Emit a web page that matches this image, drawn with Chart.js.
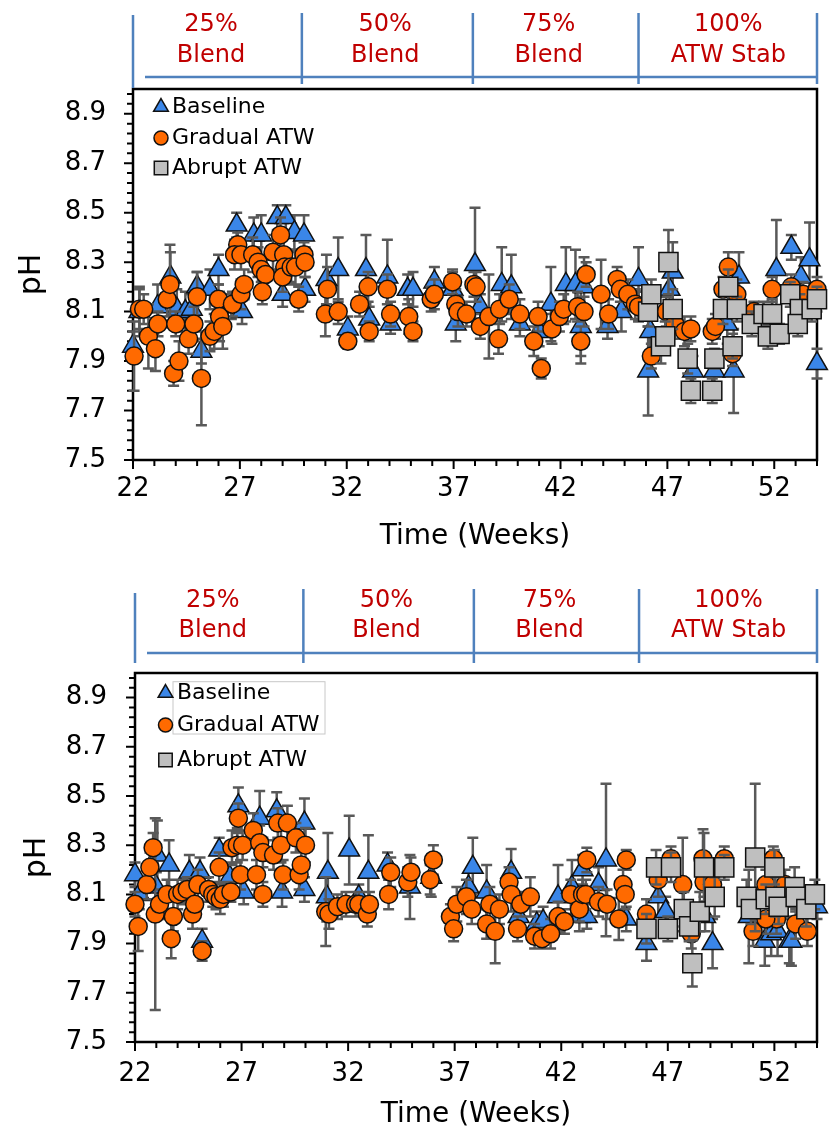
<!DOCTYPE html>
<html>
<head>
<meta charset="utf-8">
<title>pH over time</title>
<script src="https://cdn.jsdelivr.net/npm/chart.js@4.4.1/dist/chart.umd.min.js"></script>
<style>
  html, body { margin: 0; padding: 0; background: #fff; }
  body { position: relative; width: 832px; height: 1136px; overflow: hidden; }
  canvas { position: absolute; left: 0; }
  #phTop { top: 0; }
  #phBottom { top: 570px; }
</style>
</head>
<body>
<canvas id="phTop" width="832" height="570"></canvas>
<canvas id="phBottom" width="832" height="566"></canvas>
<script>
/* ---------- data: [week, pH, std dev] ---------- */
const seriesNames = ['Baseline', 'Gradual ATW', 'Abrupt ATW'];
const phaseLabels = [['25%', 'Blend'], ['50%', 'Blend'], ['75%', 'Blend'], ['100%', 'ATW Stab']];
const phaseBounds = [22, 29.9, 37.9, 45.65, 54];
const xTicks = [22, 27, 32, 37, 42, 47, 52];
const yTicks = [7.5, 7.7, 7.9, 8.1, 8.3, 8.5, 8.7, 8.9];

const topBaseline = [
  [22.0, 7.96, 0.06], [22.3, 8.10, 0.10], [23.15, 8.12, 0.09], [23.75, 8.24, 0.10],
  [24.05, 8.11, 0.08], [24.45, 8.10, 0.08], [24.75, 8.11, 0.06], [25.0, 8.20, 0.06],
  [25.2, 7.94, 0.05], [25.6, 8.19, 0.08], [26.0, 8.27, 0.06], [26.6, 8.12, 0.05],
  [27.1, 8.10, 0.05], [26.85, 8.45, 0.05], [27.65, 8.41, 0.07], [28.0, 8.41, 0.08],
  [28.75, 8.48, 0.05], [29.15, 8.48, 0.05], [29.55, 8.42, 0.07], [30.0, 8.41, 0.08],
  [29.0, 8.17, 0.05], [30.05, 8.19, 0.05], [31.05, 8.23, 0.10], [31.6, 8.27, 0.13],
  [32.05, 8.03, 0.05], [32.9, 8.27, 0.14], [33.05, 8.07, 0.05], [33.9, 8.24, 0.15],
  [34.05, 8.05, 0.04], [34.85, 8.19, 0.06], [35.1, 8.19, 0.07], [36.1, 8.22, 0.06],
  [36.95, 8.19, 0.07], [37.1, 8.05, 0.07], [38.0, 8.29, 0.23], [38.25, 8.12, 0.05],
  [39.25, 8.21, 0.15], [39.7, 8.20, 0.13], [40.1, 8.05, 0.05], [41.0, 8.02, 0.06],
  [41.55, 8.13, 0.15], [42.25, 8.21, 0.15], [42.7, 8.21, 0.14], [43.1, 8.20, 0.12],
  [42.95, 8.04, 0.15], [44.2, 8.04, 0.05], [44.85, 8.10, 0.08], [45.65, 8.23, 0.13],
  [46.1, 7.86, 0.18], [46.2, 8.02, 0.09], [47.1, 8.19, 0.13], [47.25, 8.26, 0.12],
  [48.2, 7.86, 0.06], [49.2, 7.86, 0.06], [49.8, 8.05, 0.08], [50.1, 7.86, 0.17],
  [50.35, 8.24, 0.10], [52.1, 8.27, 0.20], [52.8, 8.36, 0.05], [53.25, 8.24, 0.08],
  [53.65, 8.31, 0.15], [54.0, 7.89, 0.06]
];
const topGradual = [
  [22.05, 7.92, 0.14], [22.3, 8.11, 0.08], [22.5, 8.11, 0.06], [22.72, 8.00, 0.13],
  [23.05, 7.95, 0.09], [23.17, 8.05, 0.05], [23.6, 8.15, 0.07], [23.73, 8.21, 0.16],
  [23.9, 7.85, 0.05], [24.15, 7.90, 0.08], [24.0, 8.05, 0.05], [24.6, 7.99, 0.06],
  [24.85, 8.05, 0.07], [25.0, 8.16, 0.10], [25.2, 7.83, 0.19], [25.6, 8.00, 0.06],
  [25.8, 8.02, 0.07], [26.0, 8.15, 0.06], [26.05, 8.08, 0.10], [26.2, 8.04, 0.09],
  [26.65, 8.13, 0.05], [27.05, 8.17, 0.06], [27.2, 8.21, 0.06], [26.9, 8.37, 0.05],
  [26.75, 8.33, 0.06], [27.05, 8.33, 0.06], [27.6, 8.33, 0.07], [27.85, 8.30, 0.06],
  [28.0, 8.27, 0.05], [28.2, 8.25, 0.06], [28.05, 8.18, 0.05], [28.55, 8.34, 0.07],
  [28.9, 8.41, 0.07], [29.05, 8.33, 0.09], [29.1, 8.28, 0.07], [29.0, 8.24, 0.06],
  [29.4, 8.28, 0.06], [29.6, 8.28, 0.07], [30.0, 8.33, 0.05], [30.05, 8.30, 0.06],
  [29.75, 8.15, 0.05], [31.1, 8.19, 0.09], [31.0, 8.09, 0.09], [31.6, 8.10, 0.05],
  [32.05, 7.98, 0.03], [32.6, 8.13, 0.05], [33.0, 8.20, 0.06], [33.05, 8.02, 0.04],
  [33.9, 8.19, 0.06], [34.05, 8.09, 0.05], [34.9, 8.08, 0.07], [35.1, 8.02, 0.04],
  [35.95, 8.15, 0.05], [36.1, 8.17, 0.06], [36.95, 8.22, 0.05], [37.1, 8.13, 0.06],
  [37.2, 8.10, 0.06], [37.6, 8.09, 0.05], [37.95, 8.21, 0.05], [38.05, 8.20, 0.06],
  [38.25, 8.04, 0.05], [38.65, 8.08, 0.17], [39.1, 7.99, 0.06], [39.15, 8.11, 0.06],
  [39.6, 8.15, 0.06], [40.1, 8.09, 0.06], [40.75, 7.98, 0.06], [40.95, 8.08, 0.06],
  [41.1, 7.87, 0.04], [41.6, 8.03, 0.06], [41.95, 8.08, 0.06], [42.15, 8.11, 0.06],
  [42.8, 8.12, 0.06], [43.1, 8.10, 0.06], [43.2, 8.25, 0.05], [42.95, 7.98, 0.06],
  [43.9, 8.17, 0.14], [44.25, 8.09, 0.06], [44.65, 8.23, 0.05], [44.8, 8.19, 0.05],
  [45.15, 8.17, 0.06], [45.5, 8.13, 0.06], [45.65, 8.12, 0.06], [46.25, 7.92, 0.05],
  [46.95, 8.10, 0.06], [47.35, 8.05, 0.06], [47.8, 8.02, 0.06], [48.1, 8.03, 0.05],
  [49.1, 8.02, 0.05], [49.25, 8.04, 0.05], [49.85, 8.28, 0.06], [49.6, 8.19, 0.05],
  [50.25, 8.17, 0.06], [50.05, 7.93, 0.05], [51.05, 8.10, 0.04], [51.9, 8.19, 0.05],
  [52.8, 8.20, 0.05], [53.35, 8.17, 0.05], [54.0, 8.19, 0.05]
];
const topAbrupt = [
  [46.1, 8.10, 0.06], [46.25, 8.17, 0.06], [46.7, 7.96, 0.07], [46.9, 8.00, 0.06],
  [47.05, 8.30, 0.13], [47.25, 8.11, 0.08], [47.95, 7.91, 0.06], [48.1, 7.78, 0.05],
  [49.1, 7.78, 0.05], [49.2, 7.91, 0.04], [49.6, 8.11, 0.06], [49.85, 8.20, 0.07],
  [50.25, 8.11, 0.05], [50.05, 7.96, 0.05], [50.95, 8.05, 0.05], [51.5, 8.09, 0.05],
  [51.9, 8.09, 0.06], [51.7, 8.00, 0.05], [52.25, 8.01, 0.04], [52.75, 8.17, 0.05],
  [53.2, 8.11, 0.06], [53.1, 8.05, 0.05], [53.75, 8.11, 0.05], [54.0, 8.15, 0.05]
];

const bottomBaseline = [
  [22.0, 8.18, 0.05], [22.2, 8.10, 0.06], [23.05, 8.26, 0.14], [23.6, 8.22, 0.10],
  [23.0, 8.13, 0.06], [24.55, 8.19, 0.07], [25.05, 8.19, 0.06], [25.15, 7.91, 0.05],
  [25.95, 8.28, 0.05], [26.45, 8.17, 0.06], [26.85, 8.46, 0.075], [27.1, 8.11, 0.05],
  [27.85, 8.41, 0.11], [28.65, 8.44, 0.075], [28.9, 8.11, 0.06], [29.95, 8.39, 0.10],
  [29.95, 8.12, 0.05], [31.05, 8.19, 0.16], [31.0, 8.09, 0.10], [32.05, 8.28, 0.14],
  [32.5, 8.09, 0.05], [32.95, 8.19, 0.15], [33.85, 8.22, 0.05], [34.9, 8.13, 0.13],
  [35.9, 8.17, 0.08], [37.85, 8.21, 0.12], [37.65, 8.13, 0.06], [38.5, 8.11, 0.11],
  [39.65, 8.19, 0.095], [40.0, 8.01, 0.06], [40.85, 7.98, 0.05], [41.15, 7.99, 0.06],
  [41.85, 8.09, 0.13], [42.5, 8.13, 0.11], [43.0, 8.20, 0.06], [42.85, 8.01, 0.06],
  [43.2, 8.01, 0.05], [43.75, 8.14, 0.07], [44.1, 8.24, 0.31], [45.05, 8.00, 0.05],
  [46.0, 7.90, 0.07], [46.55, 8.09, 0.08], [46.9, 8.03, 0.06], [48.75, 8.01, 0.06],
  [49.1, 7.90, 0.10], [50.8, 8.01, 0.19], [51.55, 7.91, 0.10], [51.85, 7.94, 0.09],
  [52.15, 7.95, 0.10], [52.7, 7.91, 0.09], [52.8, 7.91, 0.10], [54.0, 8.05, 0.05]
];
const bottomGradual = [
  [22.0, 8.06, 0.05], [22.15, 7.97, 0.10], [22.55, 8.14, 0.06], [22.7, 8.21, 0.06],
  [22.85, 8.29, 0.06], [22.95, 8.02, 0.39], [23.15, 8.06, 0.06], [23.5, 8.10, 0.06],
  [23.7, 7.92, 0.08], [23.8, 8.01, 0.06], [24.0, 8.10, 0.06], [24.2, 8.11, 0.05],
  [24.45, 8.12, 0.05], [24.7, 8.02, 0.06], [24.8, 8.06, 0.05], [24.95, 8.14, 0.06],
  [25.15, 7.87, 0.04], [25.45, 8.12, 0.05], [25.65, 8.10, 0.05], [25.8, 8.09, 0.05],
  [26.0, 8.08, 0.06], [26.15, 8.10, 0.05], [26.5, 8.11, 0.04], [25.95, 8.21, 0.06],
  [26.55, 8.29, 0.07], [26.8, 8.30, 0.07], [27.05, 8.30, 0.06], [26.85, 8.41, 0.06],
  [26.95, 8.18, 0.06], [27.55, 8.36, 0.07], [27.7, 8.18, 0.06], [27.85, 8.31, 0.07],
  [28.0, 8.27, 0.06], [28.0, 8.10, 0.05], [28.5, 8.26, 0.06], [28.7, 8.39, 0.06],
  [28.85, 8.30, 0.07], [28.95, 8.18, 0.06], [29.15, 8.39, 0.07], [29.55, 8.33, 0.06],
  [29.7, 8.18, 0.06], [29.8, 8.22, 0.06], [30.0, 8.30, 0.07], [30.95, 8.03, 0.14],
  [31.1, 8.02, 0.06], [31.5, 8.05, 0.05], [31.9, 8.06, 0.05], [32.35, 8.06, 0.05],
  [32.5, 8.06, 0.05], [32.9, 8.02, 0.05], [33.0, 8.06, 0.05], [33.9, 8.10, 0.06],
  [34.0, 8.19, 0.06], [34.8, 8.15, 0.06], [34.95, 8.19, 0.06], [35.85, 8.16, 0.06],
  [36.0, 8.24, 0.06], [36.8, 8.01, 0.05], [36.95, 7.96, 0.05], [37.1, 8.06, 0.07],
  [37.55, 8.09, 0.07], [37.8, 8.04, 0.06], [38.5, 7.98, 0.06], [38.65, 8.06, 0.07],
  [38.9, 7.95, 0.13], [39.1, 8.04, 0.06], [39.55, 8.15, 0.06], [39.65, 8.10, 0.07],
  [39.95, 7.96, 0.05], [40.1, 8.06, 0.05], [40.55, 8.09, 0.08], [40.75, 7.93, 0.05],
  [41.1, 7.92, 0.04], [41.5, 7.94, 0.06], [41.85, 8.01, 0.06], [42.15, 7.99, 0.05],
  [42.45, 8.10, 0.06], [42.85, 8.04, 0.05], [43.0, 8.10, 0.06], [43.2, 8.24, 0.05],
  [43.15, 8.10, 0.06], [43.75, 8.07, 0.06], [44.15, 8.06, 0.06], [44.7, 8.00, 0.085],
  [44.9, 8.14, 0.06], [45.0, 8.10, 0.06], [45.05, 8.24, 0.04], [46.0, 8.02, 0.06],
  [46.55, 8.16, 0.07], [47.15, 8.245, 0.05], [47.7, 8.14, 0.19], [48.1, 7.94, 0.06],
  [48.65, 8.245, 0.12], [48.7, 8.15, 0.06], [49.1, 8.14, 0.06], [49.65, 8.245, 0.05],
  [51.0, 7.95, 0.06], [51.6, 8.14, 0.06], [51.95, 8.245, 0.05], [52.1, 8.00, 0.06],
  [52.5, 8.14, 0.06], [53.0, 7.98, 0.06], [53.55, 7.95, 0.06], [51.6, 8.00, 0.06]
];
const bottomAbrupt = [
  [46.0, 7.96, 0.06], [46.45, 8.21, 0.07], [47.0, 7.96, 0.05], [47.15, 8.21, 0.06],
  [47.75, 8.04, 0.07], [48.0, 7.97, 0.06], [48.15, 7.82, 0.094], [48.5, 8.03, 0.08],
  [48.7, 8.21, 0.14], [49.2, 8.09, 0.08], [49.65, 8.21, 0.05], [50.7, 8.09, 0.07],
  [50.9, 8.04, 0.06], [51.1, 8.25, 0.30], [51.6, 8.08, 0.06], [52.0, 8.21, 0.07],
  [52.05, 8.09, 0.08], [52.2, 8.05, 0.07], [52.95, 8.13, 0.08], [53.0, 8.09, 0.06],
  [53.5, 8.04, 0.07], [53.9, 8.10, 0.06]
];

/* ---------- look ---------- */
const FONT = '"DejaVu Sans", "Liberation Sans", Arial, sans-serif';
const markerStyles = [
  { pointStyle: 'triangle', radius: 12, fill: '#3A86E8', legendRadius: 8.5 },
  { pointStyle: 'circle', radius: 9, fill: '#FF6A00', legendRadius: 7 },
  { pointStyle: 'rect', radius: 13.5, fill: '#BFBFBF', legendRadius: 9.5 }
];

function buildSets(rows) {
  return rows.map((pts, i) => ({
    label: seriesNames[i],
    data: pts.map(p => ({ x: p[0], y: p[1] })),
    errors: pts.map(p => p[2]),
    pointStyle: markerStyles[i].pointStyle,
    pointRadius: markerStyles[i].radius,
    pointHoverRadius: markerStyles[i].radius,
    pointBackgroundColor: markerStyles[i].fill,
    pointBorderColor: '#111',
    pointBorderWidth: 1.5,
    showLine: false,
    clip: false,
    order: 3 - i
  }));
}

// vertical std-dev whiskers, drawn just under each series' own markers
const errorBars = {
  id: 'errorBars',
  beforeDatasetDraw(chart, args) {
    const ds = chart.data.datasets[args.index];
    const y = chart.scales.y;
    const ctx = chart.ctx;
    ctx.save();
    ctx.strokeStyle = '#595959';
    ctx.lineWidth = 2.5;
    ctx.beginPath();
    args.meta.data.forEach((pt, i) => {
      const v = ds.data[i].y, e = ds.errors[i];
      const top = y.getPixelForValue(v + e), bot = y.getPixelForValue(v - e);
      ctx.moveTo(pt.x, top); ctx.lineTo(pt.x, bot);
      ctx.moveTo(pt.x - 5.5, top); ctx.lineTo(pt.x + 5.5, top);
      ctx.moveTo(pt.x - 5.5, bot); ctx.lineTo(pt.x + 5.5, bot);
    });
    ctx.stroke();
    ctx.restore();
  }
};

// plot box + major/minor tick marks on the outside
const frame = {
  id: 'frame',
  beforeDatasetsDraw(chart) {
    const { ctx, chartArea: a, scales: { x, y } } = chart;
    ctx.save();
    ctx.strokeStyle = '#000';
    ctx.lineWidth = 2;
    ctx.beginPath();
    for (let w = 22; w <= 54; w++) {
      const px = x.getPixelForValue(w);
      const len = (w - 22) % 5 === 0 ? 9 : 6;
      ctx.moveTo(px, a.bottom); ctx.lineTo(px, a.bottom + len);
    }
    for (let k = 0; k <= 37; k++) {
      const py = y.getPixelForValue(7.5 + k * 0.04);
      const len = k % 5 === 0 ? 9 : 6;
      ctx.moveTo(a.left, py); ctx.lineTo(a.left - len, py);
    }
    ctx.stroke();
    ctx.lineWidth = 2.5;
    ctx.strokeRect(a.left, a.top, a.right - a.left, a.bottom - a.top);
    ctx.restore();
  }
};

// blend-phase brackets above the plot
const phaseTextAt = [25.65, 33.8, 41.45, 49.85];
const phaseHeader = {
  id: 'phaseHeader',
  afterDraw(chart, args, o) {
    const { ctx, scales: { x } } = chart;
    const xs = phaseBounds.map(w => x.getPixelForValue(w));
    ctx.save();
    ctx.strokeStyle = '#4F81BD';
    ctx.lineWidth = 2.5;
    ctx.beginPath();
    xs.forEach((px, i) => {
      const span = i === 0 ? o.firstTick : o.tick;
      ctx.moveTo(px, span[0]); ctx.lineTo(px, span[1]);
    });
    ctx.moveTo(xs[0] + 12, o.lineY); ctx.lineTo(xs[xs.length - 1], o.lineY);
    ctx.stroke();
    ctx.fillStyle = '#C00000';
    ctx.font = '24px ' + FONT;
    ctx.textAlign = 'center';
    ctx.textBaseline = 'middle';
    phaseLabels.forEach((lines, i) => {
      const cx = x.getPixelForValue(phaseTextAt[i]);
      ctx.fillText(lines[0], cx, o.row1);
      ctx.fillText(lines[1], cx, o.row2);
    });
    ctx.restore();
  }
};

// legend tucked in the upper-left corner of the plot
const panelLegend = {
  id: 'panelLegend',
  afterDraw(chart, args, o) {
    const ctx = chart.ctx;
    ctx.save();
    if (o.box) {
      ctx.strokeStyle = '#c8c8c8';
      ctx.lineWidth = 1;
      ctx.strokeRect(o.box[0], o.box[1], o.box[2], o.box[3]);
    }
    chart.data.datasets.forEach((ds, i) => {
      const ry = o.rows[i];
      ctx.fillStyle = ds.pointBackgroundColor;
      ctx.strokeStyle = ds.pointBorderColor;
      ctx.lineWidth = 1.5;
      Chart.helpers.drawPoint(ctx, {
        pointStyle: ds.pointStyle, radius: markerStyles[i].legendRadius, rotation: 0, borderWidth: 1.5
      }, o.markerX, ry);
      ctx.fillStyle = '#000';
      ctx.font = '22px ' + FONT;
      ctx.textAlign = 'left';
      ctx.textBaseline = 'middle';
      ctx.fillText(ds.label, o.textX, ry);
    });
    ctx.restore();
  }
};

function makePanel(id, rows, L) {
  return new Chart(document.getElementById(id), {
    type: 'scatter',
    data: { datasets: buildSets(rows) },
    plugins: [frame, errorBars, phaseHeader, panelLegend],
    options: {
      responsive: false,
      animation: false,
      events: [],
      layout: { padding: { top: L.plotTop, right: 6, left: 0, bottom: 0 } },
      scales: {
        x: {
          type: 'linear', min: 22, max: 54,
          afterFit: s => { s.height = L.xHeight; },
          afterBuildTicks: s => { s.ticks = xTicks.map(v => ({ value: v })); },
          grid: { display: false, drawTicks: false },
          border: { display: false },
          ticks: { autoSkip: false, maxRotation: 0, padding: L.xTickPad, color: '#000',
                   font: { family: FONT, size: 26 }, callback: v => String(v) },
          title: { display: true, text: 'Time (Weeks)', color: '#000',
                   font: { family: FONT, size: 28 }, padding: { top: 0, bottom: L.xTitlePad } }
        },
        y: {
          type: 'linear', min: 7.5, max: 9.0,
          afterFit: s => { s.width = L.yWidth; },
          afterBuildTicks: s => { s.ticks = yTicks.map(v => ({ value: v })); },
          grid: { display: false, drawTicks: false },
          border: { display: false },
          ticks: { autoSkip: false, padding: L.yTickPad, color: '#000',
                   font: { family: FONT, size: 26 }, callback: v => Number(v).toFixed(1) },
          title: { display: true, text: 'pH', color: '#000',
                   font: { family: FONT, size: 30 }, padding: { top: L.yTitlePad, bottom: 0 } }
        }
      },
      plugins: {
        legend: { display: false },
        tooltip: { enabled: false },
        phaseHeader: L.header,
        panelLegend: L.legend
      }
    }
  });
}

makePanel('phTop', [topBaseline, topGradual, topAbrupt], {
  plotTop: 89, xHeight: 110, yWidth: 133,
  xTickPad: 14, xTitlePad: 16, yTickPad: 27, yTitlePad: 14,
  header: { lineY: 77, row1: 25, row2: 55.5, firstTick: [15, 88], tick: [13, 84] },
  legend: { rows: [107, 138, 168], markerX: 161, textX: 172 }
});

makePanel('phBottom', [bottomBaseline, bottomGradual, bottomAbrupt], {
  plotTop: 103, xHeight: 94, yWidth: 135,
  xTickPad: 17, xTitlePad: 4, yTickPad: 28, yTitlePad: 19,
  header: { lineY: 83, row1: 30.5, row2: 61, firstTick: [23, 93], tick: [19, 93] },
  legend: { rows: [123, 155, 190], markerX: 165.5, textX: 177, box: [173, 111.7, 152, 52.3] }
});
</script>
</body>
</html>
